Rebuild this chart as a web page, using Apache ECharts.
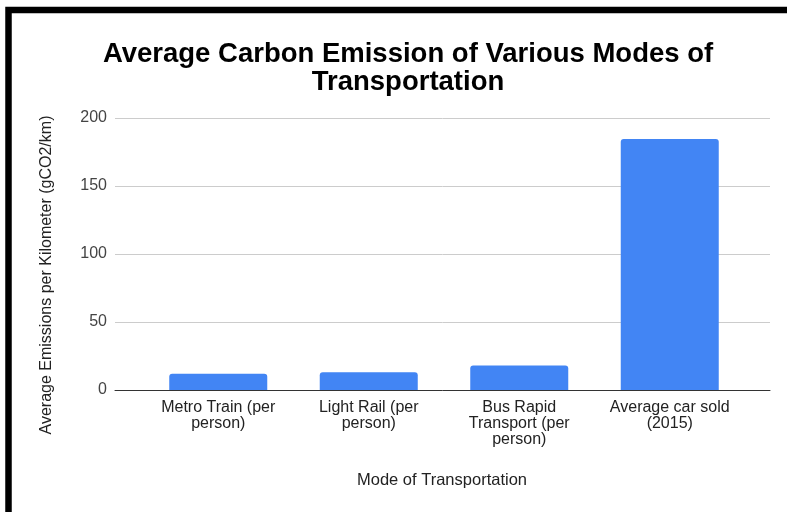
<!DOCTYPE html>
<html>
<head>
<meta charset="utf-8">
<script src="https://cdn.jsdelivr.net/npm/echarts@6/dist/echarts.min.js"></script>
<style>
  html, body { margin: 0; padding: 0; background: #ffffff; }
  #chart { width: 787px; height: 512px; }
</style>
</head>
<body>
<div id="chart"></div>
<script>
// Emissions per kilometre for each mode of transport
const categories = [
  'Metro Train (per\nperson)',
  'Light Rail (per\nperson)',
  'Bus Rapid\nTransport (per\nperson)',
  'Average car sold\n(2015)'
];
const emissions = [12, 13, 18, 184.5];
const yTicks = { min: 0, max: 200, step: 50 };

const FONT = "'Liberation Sans', Arial, sans-serif";
const chart = echarts.init(document.getElementById('chart'), null, { renderer: 'canvas' });

chart.setOption({
  backgroundColor: '#ffffff',
  animation: false,
  title: {
    text: 'Average Carbon Emission of Various Modes of\nTransportation',
    left: 403,
    top: 35,
    textAlign: 'center',
    textStyle: { fontFamily: FONT, fontWeight: 'bold', fontSize: 27.5, lineHeight: 28, color: '#000000' }
  },
  graphic: [
    // outer black frame
    { type: 'rect', shape: { x: 8.5, y: 10, width: 800, height: 520 },
      style: { fill: 'none', stroke: '#000000', lineWidth: 6.5 }, z: 10 },
    // vertical axis title
    { type: 'text', x: 47, y: 275, rotation: Math.PI / 2,
      style: { text: 'Average Emissions per Kilometer (gCO2/km)', fontFamily: FONT, fontSize: 16,
               fill: '#222222', align: 'center', verticalAlign: 'middle' } },
    // horizontal axis title
    { type: 'text', x: 442, y: 480,
      style: { text: 'Mode of Transportation', fontFamily: FONT, fontSize: 16.5,
               fill: '#222222', align: 'center', verticalAlign: 'middle' } }
  ],
  grid: [
    { left: 115, right: 17, top: 118, bottom: 122 },
    { left: 143, right: 42, top: 118, bottom: 122 }
  ],
  xAxis: [
    { gridIndex: 0, type: 'category', data: [''],
      axisLine: { show: true, lineStyle: { color: '#333333', width: 1 } },
      axisTick: { show: false }, axisLabel: { show: false }, splitLine: { show: false } },
    { gridIndex: 1, type: 'category', data: categories,
      axisLine: { show: false }, axisTick: { show: false },
      axisLabel: { fontFamily: FONT, fontSize: 16, color: '#222222', margin: 10, lineHeight: 16, interval: 0 } }
  ],
  yAxis: [
    { gridIndex: 0, type: 'value', min: yTicks.min, max: yTicks.max, interval: yTicks.step,
      axisLine: { show: false }, axisTick: { show: false },
      axisLabel: { fontFamily: FONT, fontSize: 16, color: '#444444', margin: 8 },
      splitLine: { lineStyle: { color: '#cccccc', width: 1 } } },
    { gridIndex: 1, type: 'value', min: yTicks.min, max: yTicks.max, interval: yTicks.step,
      show: false, splitLine: { show: false } }
  ],
  series: [
    { type: 'bar', xAxisIndex: 1, yAxisIndex: 1, data: emissions, barWidth: 98,
      itemStyle: { color: '#4285f4', borderRadius: [3, 3, 0, 0] } }
  ]
});
</script>
</body>
</html>
